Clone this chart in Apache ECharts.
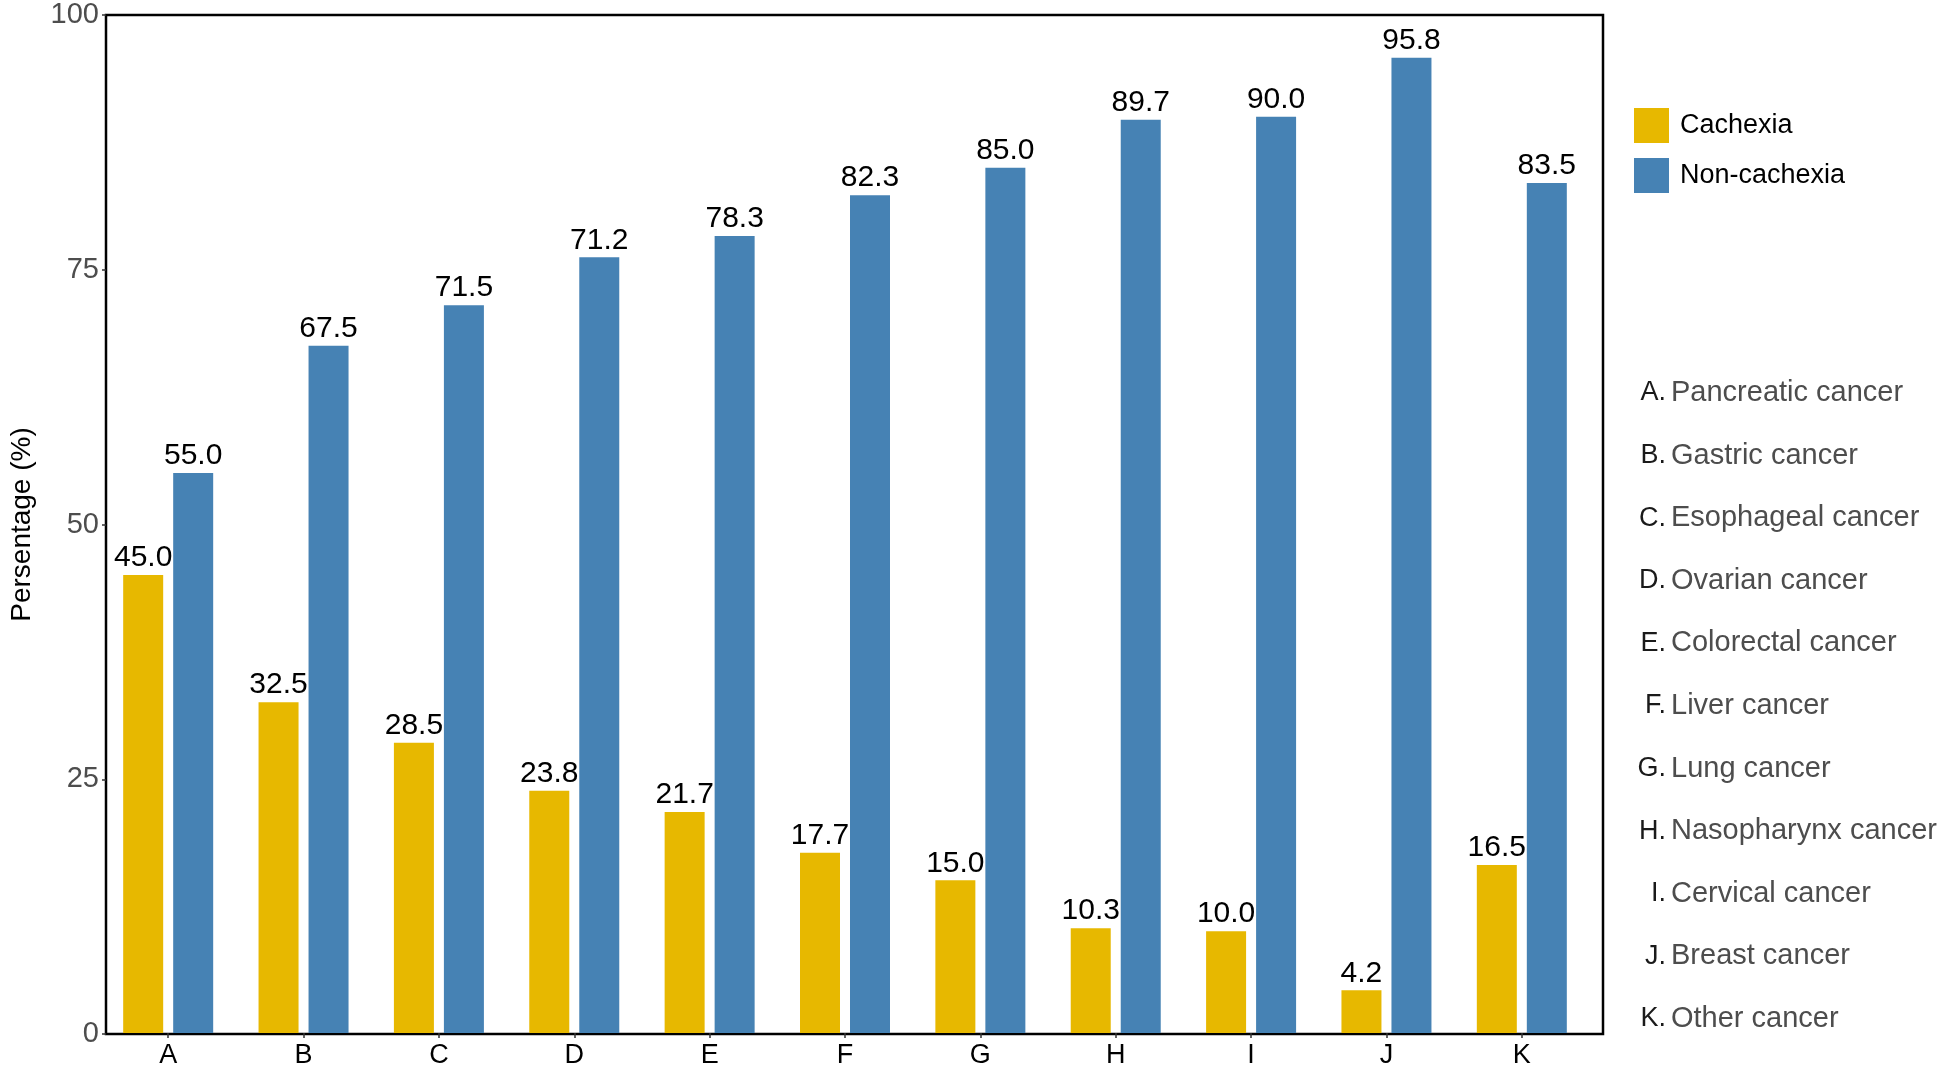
<!DOCTYPE html>
<html>
<head>
<meta charset="utf-8">
<script src="https://cdn.jsdelivr.net/npm/echarts@6/dist/echarts.min.js"></script>
<style>
  html, body { margin: 0; padding: 0; background: #fff; }
  #main { width: 1944px; height: 1069px; }
</style>
</head>
<body>
<div id="main"></div>
<script>
const categories = ['A', 'B', 'C', 'D', 'E', 'F', 'G', 'H', 'I', 'J', 'K'];
const cancerNames = [
    'Pancreatic cancer', 'Gastric cancer', 'Esophageal cancer', 'Ovarian cancer',
    'Colorectal cancer', 'Liver cancer', 'Lung cancer', 'Nasopharynx cancer',
    'Cervical cancer', 'Breast cancer', 'Other cancer'
];
const cachexia = [45.0, 32.5, 28.5, 23.8, 21.7, 17.7, 15.0, 10.3, 10.0, 4.2, 16.5];
// bar heights as drawn; D's printed label differs from its bar in the original
const nonCachexia = [55.0, 67.5, 71.5, 76.2, 78.3, 82.3, 85.0, 89.7, 90.0, 95.8, 83.5];
const nonCachexiaLabels = ['55.0', '67.5', '71.5', '71.2', '78.3', '82.3', '85.0', '89.7', '90.0', '95.8', '83.5'];
const yTicks = [0, 25, 50, 75, 100];

const chart = echarts.init(document.getElementById('main'));
const font = 'Arial, "Liberation Sans", Helvetica, sans-serif';

// list of category names on the right
const listItems = [];
categories.forEach((c, i) => {
    const y = 393 + i * 62.6;
    listItems.push({
        type: 'text', x: 1666, y: y,
        style: { text: c + '.', font: '27px ' + font, fill: '#1a1a1a', align: 'right', verticalAlign: 'middle' }
    });
    listItems.push({
        type: 'text', x: 1671, y: y,
        style: { text: cancerNames[i], font: '29px ' + font, fill: '#4d4d4d', align: 'left', verticalAlign: 'middle' }
    });
});

const option = {
    animation: false,
    textStyle: { fontFamily: font },
    legend: {
        orient: 'vertical',
        left: 1629,
        top: 103,
        icon: 'rect',
        itemWidth: 35,
        itemHeight: 35,
        itemGap: 15,
        textStyle: { fontSize: 27, color: '#000', padding: [0, 0, 0, 6] },
        data: ['Cachexia', 'Non-cachexia']
    },
    grid: [
        { left: 87, right: 341, top: 15, bottom: 35, show: true, borderColor: '#000', borderWidth: 2.5 },
        { left: 100.5, right: 354.5, top: 15, bottom: 35 }
    ],
    xAxis: [
        { type: 'value', gridIndex: 0, min: 0, max: 1, show: false },
        {
            type: 'category', gridIndex: 1, data: categories,
            axisLine: { show: false },
            axisTick: { show: true, alignWithLabel: true, length: 5, lineStyle: { color: '#333', width: 1.5 } },
            axisLabel: { fontSize: 27, color: '#000', margin: 9 }
        }
    ],
    yAxis: [
        {
            type: 'value', gridIndex: 0, min: 0, max: 100, interval: 25,
            name: 'Persentage (%)', nameLocation: 'middle', nameGap: 70,
            nameTextStyle: { fontSize: 28, color: '#000' },
            axisLine: { show: false },
            splitLine: { show: false },
            axisTick: { show: true, length: 4, lineStyle: { color: '#333', width: 1.5 } },
            axisLabel: { fontSize: 29, color: '#4d4d4d', margin: 7, formatter: v => yTicks.includes(v) ? String(v) : '' }
        },
        { type: 'value', gridIndex: 1, min: 0, max: 100, show: false }
    ],
    series: [
        {
            name: 'Cachexia', type: 'bar', xAxisIndex: 1, yAxisIndex: 1,
            data: cachexia, barWidth: 40, barGap: '25%',
            itemStyle: { color: '#E7B800' },
            label: { show: true, position: 'top', distance: 2, fontSize: 30, color: '#000', formatter: p => p.value.toFixed(1) }
        },
        {
            name: 'Non-cachexia', type: 'bar', xAxisIndex: 1, yAxisIndex: 1,
            data: nonCachexia, barWidth: 40, barGap: '25%',
            itemStyle: { color: '#4682B4' },
            label: { show: true, position: 'top', distance: 2, fontSize: 30, color: '#000', formatter: p => nonCachexiaLabels[p.dataIndex] }
        }
    ],
    graphic: listItems
};

chart.setOption(option);
window.addEventListener('resize', () => chart.resize());
</script>
</body>
</html>
